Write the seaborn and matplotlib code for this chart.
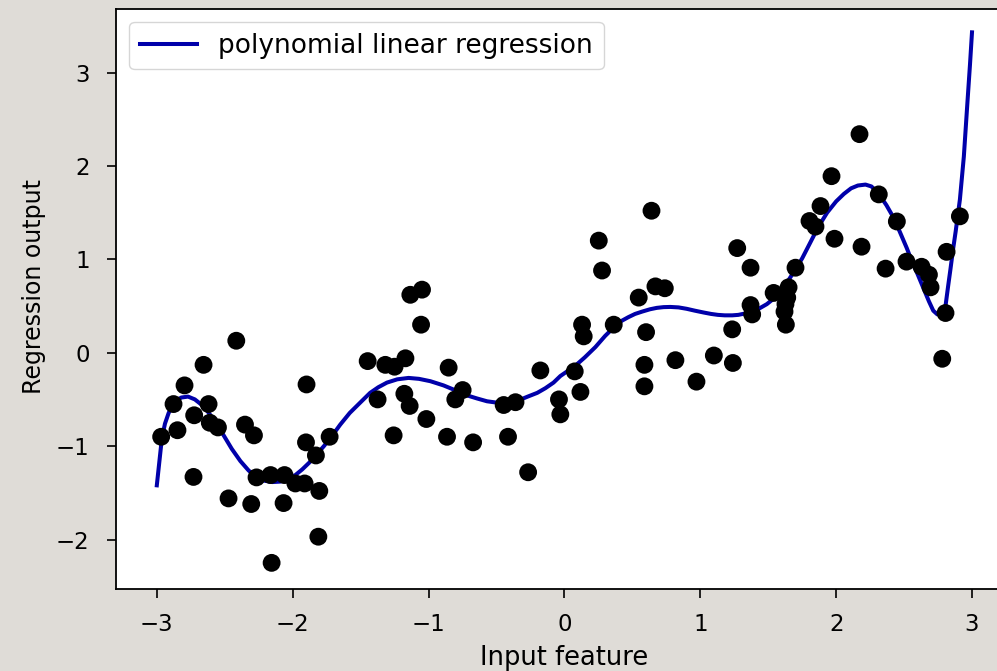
import matplotlib
matplotlib.use("Agg")
import matplotlib.pyplot as plt
import numpy as np
import pandas as pd
import seaborn as sns

# scatter data
feature_x = [-2.415, -2.656, -2.796, -2.877, -2.619, -2.725, -2.61, -2.55, -2.968, -2.848,
             -2.351, -2.285, -1.898, -1.902, -1.728, -1.829, -2.73, -2.266, -2.163, -2.06,
             -1.98, -1.912, -1.804, -2.472, -2.305, -2.067, -1.811, -2.155,
             -1.134, -1.048, -1.055, -1.448, -1.318, -1.25, -1.17, -0.852, -0.177, -1.375,
             -1.178, -1.139, -1.016, -0.749, -0.803, -0.447, -0.36, -1.257, -0.864, -0.672,
             -0.415, -0.267, -0.04, -0.03,
             0.641, 0.253, 0.277, 0.67, 0.739, 0.547, 1.272, 1.37, 1.54, 1.37, 1.382, 1.235,
             0.363, 0.13, 0.142, 0.601, 0.589, 0.589, 0.817, 1.10, 1.24, 0.972, 0.076, 0.118,
             2.172, 1.966, 1.885, 1.804, 1.848, 2.314, 2.447, 1.988, 2.187, 2.911, 2.813,
             1.701, 2.364, 2.518, 2.629, 2.683, 2.695, 1.65, 1.64, 1.627, 1.62, 1.63,
             2.805, 2.781]
output_y = [0.128, -0.13, -0.35, -0.55, -0.55, -0.67, -0.75, -0.80, -0.90, -0.83,
            -0.77, -0.885, -0.34, -0.96, -0.90, -1.10, -1.33, -1.335, -1.31, -1.31,
            -1.40, -1.40, -1.48, -1.56, -1.62, -1.61, -1.97, -2.25,
            0.62, 0.675, 0.30, -0.09, -0.13, -0.15, -0.06, -0.16, -0.19, -0.50,
            -0.44, -0.57, -0.71, -0.40, -0.50, -0.56, -0.53, -0.885, -0.90, -0.96,
            -0.90, -1.28, -0.50, -0.66,
            1.52, 1.20, 0.88, 0.71, 0.69, 0.59, 1.12, 0.91, 0.64, 0.51, 0.41, 0.25,
            0.30, 0.30, 0.175, 0.22, -0.13, -0.36, -0.08, -0.03, -0.11, -0.31, -0.20, -0.42,
            2.34, 1.89, 1.57, 1.41, 1.35, 1.695, 1.405, 1.22, 1.135, 1.46, 1.08,
            0.91, 0.90, 0.975, 0.92, 0.835, 0.70, 0.70, 0.59, 0.52, 0.44, 0.30,
            0.425, -0.065]

# regression curve
curve_x = [-3.0, -2.98, -2.963, -2.94, -2.914, -2.89, -2.864, -2.82, -2.77, -2.72, -2.668,
           -2.62, -2.57, -2.51, -2.448, -2.385, -2.325, -2.27, -2.21, -2.15, -2.09, -2.03,
           -1.98, -1.93, -1.88, -1.83, -1.77, -1.71, -1.65, -1.58, -1.50, -1.43, -1.37,
           -1.306, -1.23, -1.147, -1.07, -0.987, -0.89, -0.79, -0.71, -0.643, -0.57,
           -0.496, -0.43, -0.38, -0.32, -0.27, -0.20, -0.14, -0.08, -0.03, 0.03, 0.08,
           0.15, 0.228, 0.30, 0.363, 0.42, 0.47, 0.52, 0.572, 0.63, 0.68, 0.73, 0.78,
           0.84, 0.90, 0.96, 1.026, 1.08, 1.13, 1.18, 1.235, 1.28, 1.33, 1.38, 1.43,
           1.49, 1.55, 1.62, 1.70, 1.75, 1.81, 1.87, 1.934, 2.00, 2.057, 2.11, 2.16,
           2.216, 2.26, 2.314, 2.37, 2.425, 2.47, 2.52, 2.56, 2.597, 2.64, 2.683, 2.715,
           2.745, 2.775, 2.805, 2.825, 2.842, 2.86, 2.88, 2.911, 2.94, 2.965, 2.985, 3.0]
curve_y = [-1.42, -1.15, -0.92, -0.76, -0.65, -0.57, -0.52, -0.48, -0.47, -0.50, -0.56,
           -0.64, -0.74, -0.88, -1.03, -1.16, -1.26, -1.33, -1.37, -1.385, -1.38, -1.35,
           -1.31, -1.25, -1.18, -1.10, -1.00, -0.89, -0.77, -0.645, -0.53, -0.43, -0.37,
           -0.32, -0.285, -0.27, -0.28, -0.305, -0.35, -0.41, -0.46, -0.49, -0.52,
           -0.535, -0.53, -0.52, -0.50, -0.47, -0.43, -0.38, -0.32, -0.25, -0.19, -0.14,
           -0.05, 0.06, 0.18, 0.27, 0.34, 0.38, 0.415, 0.44, 0.465, 0.48, 0.488, 0.49,
           0.485, 0.47, 0.45, 0.43, 0.415, 0.405, 0.40, 0.40, 0.405, 0.42, 0.44, 0.47,
           0.52, 0.59, 0.71, 0.89, 1.01, 1.18, 1.35, 1.50, 1.62, 1.70, 1.76, 1.79,
           1.80, 1.78, 1.70, 1.58, 1.44, 1.29, 1.12, 0.97, 0.85, 0.70, 0.55, 0.45,
           0.41, 0.42, 0.50, 0.72, 0.90, 1.10, 1.30, 1.64, 2.10, 2.65, 3.08, 3.43]

plt.rcParams['font.family'] = ['DejaVu Sans']
plt.rcParams['font.size'] = 16

fig = plt.figure(figsize=(9.97, 6.71), dpi=100, facecolor='#dfdcd7')
ax = fig.add_axes([0.1164, 0.1222, 0.8994, 0.8644])
ax.set_facecolor('white')

sns.lineplot(x=curve_x, y=curve_y, ax=ax, color='#0000aa', linewidth=2.9,
             sort=False, estimator=None, label='polynomial linear regression')
sns.scatterplot(x=feature_x, y=output_y, ax=ax, color='black', s=165,
                edgecolor='none', linewidth=0, zorder=3)

ax.set_xlim(-3.3, 3.3)
ax.set_ylim(-2.53, 3.68)
ax.set_xticks([-3, -2, -1, 0, 1, 2, 3])
ax.set_yticks([-2, -1, 0, 1, 2, 3])
ax.tick_params(length=6.5, width=1.2, labelsize=16.5)
ax.tick_params(axis='x', pad=10.5)
ax.tick_params(axis='y', pad=12.5)
for sp in ax.spines.values():
    sp.set_linewidth(1.3)
ax.set_xlabel('Input feature', fontsize=18.5)
ax.set_ylabel('Regression output', fontsize=17)
ax.xaxis.set_label_coords(0.5, -0.097)
ax.yaxis.set_label_coords(-0.078, 0.522)
ax.legend(loc='upper left', fontsize=19, handlelength=2.15, handletextpad=0.83)

fig.savefig('out.png', dpi=100, facecolor=fig.get_facecolor())
